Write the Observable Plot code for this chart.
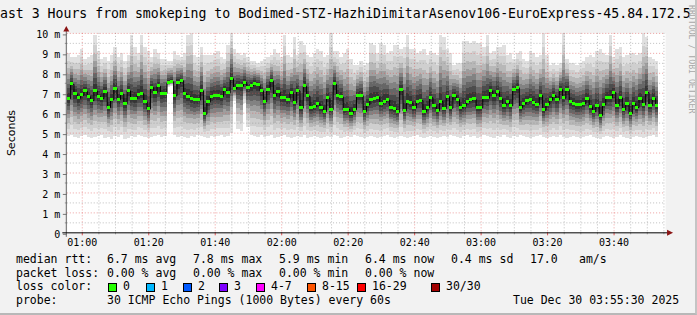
<!DOCTYPE html>
<html><head><meta charset="utf-8">
<script src="https://cdn.jsdelivr.net/npm/d3@7"></script>
<script src="https://cdn.jsdelivr.net/npm/@observablehq/plot@0.6"></script>
<style>
html,body{margin:0;padding:0;background:#f2f2f2;}
#wrap{position:relative;width:697px;height:315px;overflow:hidden;background:#f2f2f2;font-family:"DejaVu Sans Mono",monospace;color:#000;box-sizing:border-box;border-right:2px solid #c4c4c4;border-bottom:2px solid #b8b8b8;}
#wrap svg{position:absolute;left:0;top:0;}
.t{position:absolute;white-space:pre;font-size:11.5px;line-height:14px;}
.title{position:absolute;white-space:pre;font-size:13.2px;line-height:16px;left:-8px;top:5.5px;}
.sw{position:absolute;width:9px;height:9px;box-sizing:border-box;border:1px solid #000;top:283px;}
.ylab{position:absolute;left:10.5px;top:132.5px;transform:translate(-50%,-50%) rotate(-90deg);font-family:"DejaVu Sans",sans-serif;font-size:11px;white-space:pre;}
.rrd{position:absolute;left:696px;top:5px;transform-origin:left top;transform:rotate(90deg);font-size:8.2px;line-height:9px;color:#a8a8a8;white-space:pre;}
</style>
</head><body>
<div id="wrap"></div>
<script>
// ---- data ----
const startTime = Date.UTC(2025, 11, 30, 0, 55, 30);
const endTime = Date.UTC(2025, 11, 30, 3, 55, 30);
const firstSample = Date.UTC(2025, 11, 30, 0, 56, 0);

const medianMs = [
 6.73,7.45,6.95,6.75,6.9,7.1,6.82,6.63,7.12,6.83,6.73,7.07,6.28,6.67,7.23,6.68,6.95,6.47,7.12,6.73,6.72,6.92,6.97,6.58,6.2,7.27,7.0,7.35,6.95,
 6.98,7.52,7.57,6.87,7.5,7.62,6.97,6.83,6.7,6.65,6.65,7.12,5.95,6.55,6.82,6.88,6.88,6.83,7.15,7.02,7.73,7.23,7.38,7.35,7.53,7.28,7.37,7.48,7.42,7.12,
 6.58,7.17,7.6,6.88,7.07,6.77,6.75,6.68,7.03,6.52,7.12,6.25,7.35,6.85,6.25,6.33,6.47,6.27,6.08,6.75,6.18,7.45,6.88,6.82,6.17,6.18,5.98,6.17,6.87,6.88,
 6.08,6.42,6.65,6.73,6.78,6.47,6.58,6.65,6.28,6.2,6.05,7.15,6.12,6.58,6.5,6.25,6.58,6.63,6.05,6.28,6.77,6.35,6.12,6.58,6.23,6.82,6.25,6.87,6.68,6.28,
 6.35,6.58,6.65,6.7,6.25,6.27,6.78,6.75,7.1,6.85,7.08,6.7,6.37,6.58,6.37,7.17,7.27,6.27,6.47,6.62,6.65,6.52,6.43,6.88,6.15,6.43,6.65,6.88,6.65,7.18,
 6.75,7.18,6.57,6.47,6.4,6.4,6.48,6.73,6.32,6.08,6.37,5.88,6.43,6.78,6.77,7.03,6.37,6.77,6.18,6.48,5.98,6.48,6.28,6.7,6.43,7.03,6.38,6.73,6.37
];
const lowMs = [
 4.85,4.9,4.8,4.75,4.85,4.9,4.8,4.75,4.8,4.85,4.9,4.75,4.8,4.7,4.85,4.8,4.9,4.7,4.75,4.85,4.8,4.9,4.85,4.8,4.75,4.8,4.85,4.9,4.8,
 4.85,7.3,7.35,4.9,4.8,4.85,4.8,4.75,4.85,4.8,4.9,4.85,4.8,4.75,4.85,4.8,4.85,4.9,4.8,4.85,5.0,6.6,5.2,5.1,6.5,5.3,4.9,4.85,4.8,4.9,
 4.8,4.85,4.9,4.75,4.8,4.85,4.9,4.8,4.75,4.8,4.85,4.8,4.9,4.75,4.8,4.85,4.8,4.75,4.8,4.85,4.8,4.9,4.85,4.75,4.8,4.85,4.8,4.9,4.85,4.8,
 4.75,4.8,4.85,4.8,4.75,4.8,4.85,4.9,4.8,4.75,4.8,4.85,4.8,4.75,4.8,4.85,4.9,4.8,4.75,4.8,4.85,4.8,4.75,4.8,4.85,4.8,4.9,4.85,4.8,4.75,
 4.85,4.9,4.8,4.85,4.75,4.8,4.9,4.85,4.8,4.75,4.85,4.8,4.9,4.8,4.75,4.85,4.8,4.9,4.85,4.8,4.75,4.8,4.85,4.9,4.8,4.75,4.8,4.85,4.8,4.9,
 4.8,4.75,4.8,4.85,4.8,4.75,4.8,4.85,4.9,4.8,4.75,4.7,4.8,4.85,4.8,4.75,4.8,4.9,4.8,4.75,4.7,4.8,4.85,4.8,4.75,4.8,4.85,4.9,4.8
];
const highMs = [
 9.0,8.8,8.8,8.9,9.2,8.7,8.8,8.9,9.9,9.1,8.7,8.8,8.6,8.9,9.3,8.8,9.0,8.6,8.9,9.9,9.3,9.0,9.9,9.3,9.1,8.8,9.2,9.0,8.7,
 8.7,8.6,8.6,9.1,8.9,8.8,9.0,9.9,10.0,8.9,8.8,9.3,8.9,8.9,8.9,9.0,9.1,8.8,8.7,9.4,10.0,9.2,9.0,8.9,9.0,8.8,8.6,8.6,8.5,8.6,
 8.7,8.8,8.9,9.2,9.0,8.8,9.9,8.9,8.8,9.8,8.9,9.6,9.4,8.9,8.8,9.0,9.2,9.1,8.8,8.9,10.0,9.1,9.1,8.8,9.0,9.2,8.7,8.4,8.4,8.6,
 8.4,8.5,9.5,9.4,9.0,9.5,9.4,9.0,9.1,9.4,9.4,9.2,9.3,9.9,9.2,9.2,9.0,9.1,9.2,8.9,9.1,9.0,8.9,9.9,9.8,9.2,9.0,8.4,8.5,8.5,
 9.6,9.6,9.5,9.6,9.5,9.5,9.3,9.9,9.0,9.1,9.3,9.3,9.4,8.9,9.0,8.7,9.0,9.1,8.7,8.6,9.1,9.0,8.8,8.9,10.0,8.9,8.4,8.5,8.4,8.5,
 10.0,8.7,8.5,8.5,8.4,8.5,8.6,8.8,8.9,8.8,9.1,9.2,9.0,8.9,9.9,8.8,9.2,9.3,8.8,8.9,9.0,9.0,8.9,9.0,10.0,9.8,8.8,8.7,8.6
];
const yTickValues = [0,1,2,3,4,5,6,7,8,9,10];
const yMinorValues = [0.5,1.5,2.5,3.5,4.5,5.5,6.5,7.5,8.5,9.5];

const statsRtt = ["6.7 ms avg","7.8 ms max","5.9 ms min","6.4 ms now","0.4 ms sd","17.0","am/s"];
const statsLoss = ["0.00 % avg","0.00 % max","0.00 % min","0.00 % now"];
const lossLabels = ["0","1","2","3","4-7","8-15","16-29","30/30"];
const lossColors = ["#26ff00","#00b8ff","#0059ff","#7e00ff","#ff00ff","#ff5500","#ff0000","#a10000"];

// ---- styles (not data) ----
const smokeLayers = [
 {s:1.00, c:"#e0e0e0"},
 {s:0.82, c:"#cfcfcf"},
 {s:0.66, c:"#b8b8b8"},
 {s:0.53, c:"#9e9e9e"},
 {s:0.42, c:"#828282"},
 {s:0.32, c:"#666666"},
 {s:0.22, c:"#4c4c4c"},
 {s:0.12, c:"#353535"}
];

const points = medianMs.map((m, i) => ({
  t: new Date(firstSample + i * 60000), med: m, lo: lowMs[i], hi: highMs[i]
}));
const smoke = [];
for (const p of points) for (const L of smokeLayers) {
  smoke.push({t: p.t, y1: p.med - (p.med - p.lo) * L.s, y2: p.med + (p.hi - p.med) * L.s, c: L.c});
}
const half = 30000;
const majorX = d3.utcMinute.every(20).range(new Date(startTime), new Date(endTime));
const minorX = d3.utcMinute.every(5).range(new Date(startTime), new Date(endTime)).filter(d => d.getUTCMinutes() % 20 !== 0);

const chart = Plot.plot({
  width: 697, height: 255,
  marginLeft: 67, marginRight: 30, marginTop: 33, marginBottom: 22,
  style: {background: "transparent", fontFamily: "DejaVu Sans Mono", fontSize: "10px", color: "#000", overflow: "visible"},
  x: {type: "utc", domain: [new Date(startTime), new Date(endTime)]},
  y: {domain: [0, 10]},
  marks: [
    Plot.frame({fill: "#ffffff", stroke: null}),
    Plot.rect(smoke, {x1: d => new Date(+d.t - half), x2: d => new Date(+d.t + half), y1: "y1", y2: "y2", fill: "c", shapeRendering: "crispEdges"}),
    Plot.gridX(minorX, {stroke: "#888", strokeOpacity: 0.55, strokeDasharray: "1,2"}),
    Plot.gridY(yMinorValues, {stroke: "#888", strokeOpacity: 0.55, strokeDasharray: "1,2"}),
    Plot.gridX(majorX, {stroke: "#e05050", strokeOpacity: 0.55, strokeDasharray: "1,2"}),
    Plot.gridY(yTickValues.filter(v => v > 0), {stroke: "#e05050", strokeOpacity: 0.55, strokeDasharray: "1,2"}),
    Plot.line(points, {x: "t", y: "med", curve: "step", stroke: "#000", strokeWidth: 1}),
    Plot.rect(points, {x1: d => new Date(+d.t - half), x2: d => new Date(+d.t + half), y1: d => d.med - 0.075, y2: d => d.med + 0.075, fill: "#26ff00", shapeRendering: "crispEdges"}),
    Plot.axisY(yTickValues, {anchor: "left", tickSize: 4, tickPadding: 3, stroke: "#777", tickFormat: d => d === 0 ? "0" : d + " m", fontSize: 10, dy: 1.5, label: null}),
    Plot.axisY(yMinorValues, {anchor: "left", tickSize: 2, stroke: "#999", tickFormat: () => "", label: null}),
    Plot.axisX(majorX, {anchor: "bottom", tickSize: 3, tickPadding: 3, stroke: "#e05050", tickFormat: d3.utcFormat("%H:%M"), fontSize: 10, label: null}),
    Plot.axisX(minorX, {anchor: "bottom", tickSize: 2, stroke: "#aaa", tickFormat: () => "", label: null}),
    (index, {x, y}) => {
      const g = d3.create("svg:g");
      const x0 = Math.round(x(new Date(startTime))) - 0.5, x1 = x(new Date(endTime));
      const y0 = Math.round(y(0)) + 0.5, yTop = y(10);
      g.append("line").attr("x1", x0).attr("x2", x0).attr("y1", y0 + 4).attr("y2", yTop - 2).attr("stroke", "#666");
      g.append("line").attr("x1", x0 - 4).attr("x2", x1 + 3).attr("y1", y0).attr("y2", y0).attr("stroke", "#000");
      g.append("path").attr("d", `M${x0 - 3},${yTop - 1.5}L${x0 + 3},${yTop - 1.5}L${x0},${yTop - 7}Z`).attr("fill", "#8b1414");
      g.append("path").attr("d", `M${x1 + 2},${y0 - 3}L${x1 + 2},${y0 + 3}L${x1 + 8},${y0}Z`).attr("fill", "#8b1414");
      return g.node();
    }
  ]
});

const wrap = document.getElementById("wrap");
wrap.appendChild(chart);

function addText(cls, txt, left, top, extra) {
  const d = document.createElement("div");
  d.className = cls; d.textContent = txt;
  if (left != null) d.style.left = left + "px";
  if (top != null) d.style.top = top + "px";
  if (extra) Object.assign(d.style, extra);
  wrap.appendChild(d);
  return d;
}
addText("title", "Last 3 Hours from smokeping to Bodimed-STZ-HazhiDimitarAsenov106-EuroExpress-45.84.172.5");
addText("ylab", "Seconds");
addText("rrd", "RRDTOOL / TOBI OETIKER");

const rowTop = [252, 265.7, 279.4, 293.1];
addText("t", "median rtt:", 16, rowTop[0]);
[107, 193, 279, 365, 451, 530, 579].forEach((x, i) => addText("t", statsRtt[i], x, rowTop[0]));
addText("t", "packet loss:", 16, rowTop[1]);
[107, 193, 279, 365].forEach((x, i) => addText("t", statsLoss[i], x, rowTop[1]));
addText("t", "loss color:", 16, rowTop[2]);
const swX = [108, 146, 183, 219, 256, 307, 357, 431];
swX.forEach((x, i) => {
  const s = document.createElement("div");
  s.className = "sw"; s.style.left = x + "px"; s.style.background = lossColors[i];
  wrap.appendChild(s);
  addText("t", lossLabels[i], x + 15, rowTop[2]);
});
addText("t", "probe:", 16, rowTop[3]);
addText("t", "30 ICMP Echo Pings (1000 Bytes) every 60s", 107, rowTop[3]);
addText("t", "Tue Dec 30 03:55:30 2025", 513, rowTop[3]);
</script>
</body></html>
